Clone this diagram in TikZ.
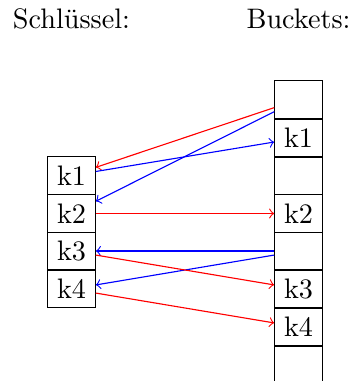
\documentclass[tikz,border=0pt]{standalone}
\begin{document}
\begin{tikzpicture}[x=0.3546pt,y=-0.3546pt,
  cell/.style={draw,inner sep=0pt,outer sep=0pt,minimum width=17.2pt,minimum height=13.3pt},
  lbl/.style={anchor=base,inner sep=0pt},
  redarr/.style={->,red},
  bluearr/.style={->,blue}]
\useasboundingbox (0,0) rectangle (352,381);
\node[lbl] (ts) at (71.5,28) {Schlüssel:};
\node[lbl] (tb) at (298.5,28) {Buckets:};
% keys
\node[cell] (k1) at (71.5,175.5) {k1};
\node[cell] (k2) at (71.5,213.5) {k2};
\node[cell] (k3) at (71.5,251) {k3};
\node[cell] (k4) at (71.5,289) {k4};
% buckets
\node[cell] (b0) at (298.5,99.5) {};
\node[cell] (b1) at (298.5,138) {k1};
\node[cell] (b2) at (298.5,176) {};
\node[cell] (b3) at (298.5,213.5) {k2};
\node[cell] (b4) at (298.5,251) {};
\node[cell] (b5) at (298.5,289) {k3};
\node[cell] (b6) at (298.5,327) {k4};
\node[cell] (b7) at (298.5,365) {};
% connectors
\draw[redarr] (b0) -- (k1);
\draw[bluearr] (b0) -- (k2);
\draw[bluearr] (k1) -- (b1);
\draw[redarr] (k2) -- (b3);
\draw[bluearr] (b4) -- (k3);
\draw[bluearr] (b4) -- (k4);
\draw[redarr] (k3) -- (b5);
\draw[redarr] (k4) -- (b6);
\end{tikzpicture}
\end{document}
